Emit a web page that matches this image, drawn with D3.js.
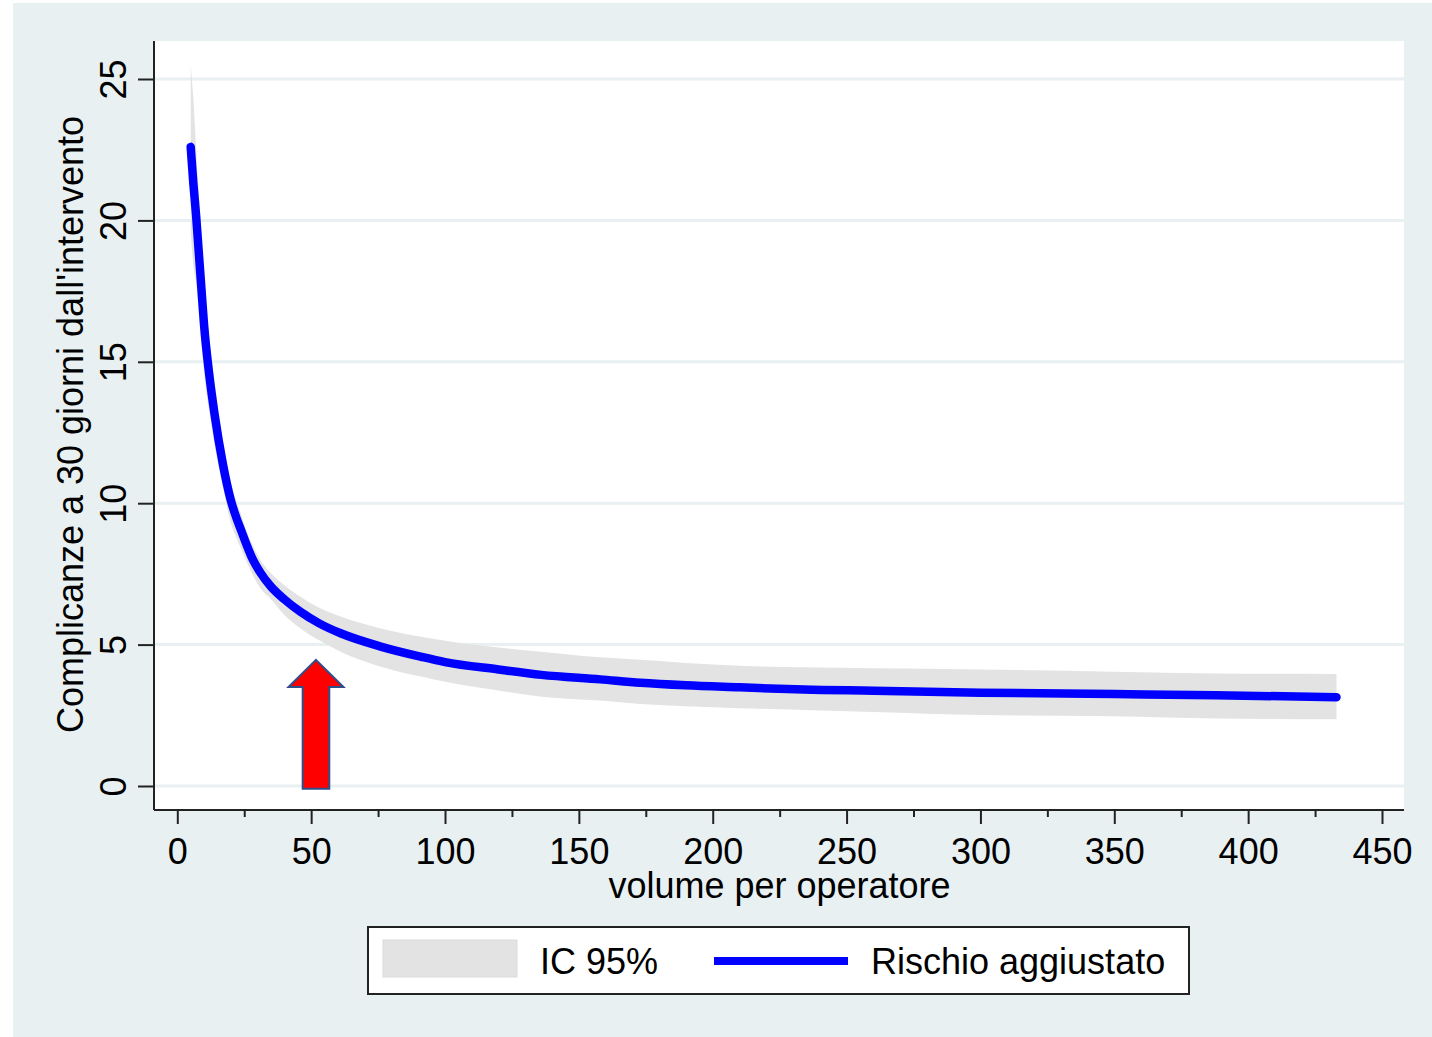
<!DOCTYPE html>
<html>
<head>
<meta charset="utf-8">
<script src="https://cdn.jsdelivr.net/npm/d3@7/dist/d3.min.js"></script>
<style>
  html, body { margin: 0; padding: 0; background: #ffffff; }
  svg { display: block; }
  text { font-family: "Liberation Sans", Arial, sans-serif; fill: #000; }
</style>
</head>
<body>
<script>
// ---- data ----
const volume = [5, 6, 7, 8, 9, 10, 12, 14, 17, 20, 22, 24, 26, 28, 31, 35, 40, 46, 53, 61, 76, 91, 100, 120, 136, 158, 173, 190, 210, 234, 260, 300, 350, 388, 433];
const risk   = [22.6, 21.3, 20.2, 18.9, 17.6, 16.3, 14.5, 13.1, 11.4, 10.1, 9.5, 9.0, 8.5, 8.05, 7.55, 7.05, 6.6, 6.16, 5.75, 5.40, 4.93, 4.57, 4.38, 4.12, 3.93, 3.77, 3.65, 3.56, 3.49, 3.41, 3.37, 3.30, 3.25, 3.21, 3.14];
const ciHigh = [25.5, 24.3, 22.6, 21.0, 19.5, 18.0, 15.8, 14.2, 12.2, 10.7, 10.1, 9.55, 9.0, 8.55, 8.0, 7.52, 7.1, 6.69, 6.3, 5.99, 5.57, 5.28, 5.14, 4.90, 4.75, 4.55, 4.46, 4.35, 4.25, 4.20, 4.16, 4.12, 4.04, 3.98, 3.96];
const ciLow  = [19.6, 18.4, 17.8, 16.8, 15.7, 14.6, 13.2, 12.0, 10.6, 9.3, 8.8, 8.35, 7.9, 7.5, 7.0, 6.6, 6.05, 5.57, 5.15, 4.75, 4.22, 3.87, 3.69, 3.38, 3.16, 3.02, 2.90, 2.82, 2.75, 2.69, 2.62, 2.51, 2.47, 2.39, 2.36];
const xTicks = [0, 50, 100, 150, 200, 250, 300, 350, 400, 450];
const xMinorTicks = [25, 75, 125, 175, 225, 275, 325, 375, 425];
const yTicks = [0, 5, 10, 15, 20, 25];
const xTitle = "volume per operatore";
const yTitle = "Complicanze a 30 giorni dall'intervento";
const legendLabels = ["IC 95%", "Rischio aggiustato"];
// annotation arrow (data units)
const arrowAt = { x: 51.8, tip: 4.46, headBase: 3.5, base: -0.1 };

// ---- layout ----
const W = 1432, H = 1037;
const plot = { left: 155, right: 1404, top: 41, bottom: 810 };
const colors = { bg: "#e8f0f2", grid: "#e8f0f2", band: "#e3e3e3", line: "#0000ff", axis: "#222" };

const x = d3.scaleLinear().domain([0, 450]).range([177.3, 1382]);
const y = d3.scaleLinear().domain([0, 25]).range([786, 79]);

const svg = d3.select("body").append("svg").attr("width", W).attr("height", H);

// outer background
svg.append("rect").attr("x", 13).attr("y", 3).attr("width", W - 13).attr("height", H - 3).attr("fill", colors.bg);
// plot region
svg.append("rect").attr("x", plot.left).attr("y", plot.top)
  .attr("width", plot.right - plot.left).attr("height", plot.bottom - plot.top).attr("fill", "#fff");

// gridlines
svg.append("g").selectAll("line").data(yTicks).join("line")
  .attr("x1", plot.left).attr("x2", plot.right)
  .attr("y1", d => y(d)).attr("y2", d => y(d))
  .attr("stroke", colors.grid).attr("stroke-width", 3);

const pts = volume.map((v, i) => ({ v, r: risk[i], lo: ciLow[i], hi: ciHigh[i] }));

// CI band
svg.append("path").datum(pts)
  .attr("d", d3.area().x(d => x(d.v)).y0(d => y(d.lo)).y1(d => y(d.hi)).curve(d3.curveMonotoneX))
  .attr("fill", colors.band);

// risk line
svg.append("path").datum(pts)
  .attr("d", d3.line().x(d => x(d.v)).y(d => y(d.r)).curve(d3.curveMonotoneX))
  .attr("fill", "none").attr("stroke", colors.line).attr("stroke-width", 8.5)
  .attr("stroke-linecap", "round").attr("stroke-linejoin", "round");

// arrow annotation
(function () {
  const cx = x(arrowAt.x), tip = y(arrowAt.tip), hb = y(arrowAt.headBase), b = y(arrowAt.base);
  const hw = 27.5, sw = 13.3;
  const p = d3.path();
  p.moveTo(cx, tip); p.lineTo(cx + hw, hb); p.lineTo(cx + sw, hb); p.lineTo(cx + sw, b);
  p.lineTo(cx - sw, b); p.lineTo(cx - sw, hb); p.lineTo(cx - hw, hb); p.closePath();
  svg.append("path").attr("d", p.toString()).attr("fill", "#ff0000")
    .attr("stroke", "#2f4f8a").attr("stroke-width", 2).attr("stroke-linejoin", "miter");
})();

// x axis
const xAxisG = svg.append("g").attr("transform", `translate(0,${plot.bottom})`);
xAxisG.append("line").attr("x1", plot.left - 1).attr("x2", plot.right).attr("y1", 0).attr("y2", 0)
  .attr("stroke", colors.axis).attr("stroke-width", 2);
xAxisG.call(g => {
  const ax = d3.axisBottom(x).tickValues(xTicks).tickSize(14).tickPadding(14).tickFormat(d3.format("d"));
  g.append("g").call(ax);
  g.append("g").call(d3.axisBottom(x).tickValues(xMinorTicks).tickSize(7).tickFormat(""));
});
xAxisG.selectAll(".domain").remove();
xAxisG.selectAll(".tick line").attr("stroke", colors.axis).attr("stroke-width", 2);
xAxisG.selectAll(".tick text").attr("font-size", 36).attr("font-family", "Liberation Sans, Arial, sans-serif").attr("fill", "#000")
  .attr("dy", null).attr("y", 54);

// y axis
const yAxisG = svg.append("g").attr("transform", `translate(${plot.left - 1},0)`);
yAxisG.append("line").attr("x1", 0).attr("x2", 0).attr("y1", plot.top).attr("y2", plot.bottom)
  .attr("stroke", colors.axis).attr("stroke-width", 2);
yAxisG.call(g => g.append("g").call(d3.axisLeft(y).tickValues(yTicks).tickSize(16).tickFormat(d3.format("d"))));
yAxisG.selectAll(".domain").remove();
yAxisG.selectAll(".tick line").attr("stroke", colors.axis).attr("stroke-width", 2);
yAxisG.selectAll(".tick text").attr("font-size", 36).attr("font-family", "Liberation Sans, Arial, sans-serif").attr("fill", "#000")
  .attr("x", null).attr("dy", null).attr("text-anchor", "middle")
  .attr("transform", "translate(-28,0) rotate(-90)");

// axis titles
svg.append("text").attr("x", (plot.left + plot.right) / 2).attr("y", 898)
  .attr("text-anchor", "middle").attr("font-size", 36).text(xTitle);
svg.append("text").attr("transform", `translate(83,${(plot.top + plot.bottom) / 2 - 1}) rotate(-90)`)
  .attr("text-anchor", "middle").attr("font-size", 36).text(yTitle);

// legend
const lg = svg.append("g");
lg.append("rect").attr("x", 368).attr("y", 927).attr("width", 821).attr("height", 67)
  .attr("fill", "#fff").attr("stroke", "#222").attr("stroke-width", 2);
lg.append("rect").attr("x", 383).attr("y", 940).attr("width", 134).attr("height", 37)
  .attr("fill", colors.band).attr("stroke", "#dcdcdc").attr("stroke-width", 1);
lg.append("text").attr("x", 540).attr("y", 974).attr("font-size", 36).text(legendLabels[0]);
lg.append("line").attr("x1", 714).attr("x2", 848).attr("y1", 961).attr("y2", 961)
  .attr("stroke", colors.line).attr("stroke-width", 8);
lg.append("text").attr("x", 871).attr("y", 974).attr("font-size", 36).text(legendLabels[1]);
</script>
</body>
</html>
